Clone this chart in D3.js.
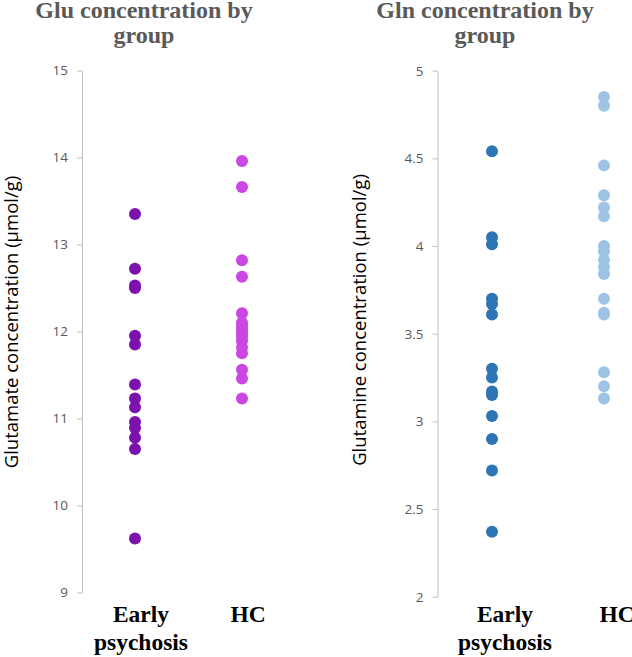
<!DOCTYPE html>
<html>
<head>
<meta charset="utf-8">
<script src="https://cdn.jsdelivr.net/npm/d3@7"></script>
<style>
  body { margin: 0; background: #fff; }
  svg { display: block; }
</style>
</head>
<body>
<svg width="632" height="657"></svg>
<script>
const svg = d3.select('svg');

// groups on the x axis
var groups = ["Early psychosis", "HC"];

// Glu (umol/g)
var gluEarly = [13.35, 12.72, 12.53, 12.50, 11.95, 11.85, 11.39, 11.23, 11.13, 10.96, 10.89, 10.78, 10.65, 9.62];
var gluHC = [13.96, 13.66, 12.82, 12.63, 12.21, 12.10, 12.06, 12.02, 12.00, 11.97, 11.93, 11.89, 11.82, 11.75, 11.56, 11.46, 11.23];

// Gln (umol/g)
var glnEarly = [4.54, 4.05, 4.01, 3.70, 3.67, 3.61, 3.30, 3.25, 3.17, 3.15, 3.03, 2.90, 2.72, 2.37];
var glnHC = [4.85, 4.80, 4.46, 4.29, 4.22, 4.17, 4.00, 3.97, 3.92, 3.88, 3.84, 3.70, 3.62, 3.61, 3.28, 3.20, 3.13];

// tick labels
var gluTicks = [9, 10, 11, 12, 13, 14, 15];
var glnTicks = [2, 2.5, 3, 3.5, 4, 4.5, 5];

function panel(opt) {
    var g = svg.append("g");

    var x = d3.scalePoint().domain(groups).range(opt.xRange);
    var y = d3.scaleLinear().domain(opt.yDomain).range(opt.yRange);

    // y axis
    var axis = g.append("g")
        .attr("transform", "translate(" + opt.axisX + ",0)")
        .call(d3.axisLeft(y).tickValues(opt.ticks).tickFormat(function(d) { return String(d); })
            .tickSize(5).tickPadding(9).tickSizeOuter(0));
    axis.select(".domain").attr("stroke", "#bfbfbf");
    axis.selectAll(".tick line").attr("stroke", "#bfbfbf");
    axis.selectAll(".tick text")
        .attr("fill", "#595959")
        .style("font-family", "'Open Sans', sans-serif")
        .style("font-size", "13.5px");

    // points
    opt.series.forEach(function(s, i) {
        g.append("g").selectAll("circle")
            .data(s.values)
            .enter()
            .append("circle")
            .attr("cx", x(groups[i]))
            .attr("cy", function(d) { return y(d); })
            .attr("r", 6)
            .attr("fill", s.color);
    });

    // title, two lines
    var t = g.append("text")
        .attr("text-anchor", "middle")
        .attr("fill", "#595959")
        .style("font-family", "'Liberation Serif', serif")
        .style("font-weight", "bold")
        .style("font-size", "24px");
    opt.title.forEach(function(line, i) {
        t.append("tspan")
            .attr("x", opt.titleX)
            .attr("y", 18 + i * 25)
            .text(line);
    });

    // y axis title
    g.append("text")
        .attr("transform", "translate(" + opt.yTitleX + "," + opt.yTitleY + ") rotate(-90)")
        .attr("text-anchor", "middle")
        .attr("fill", "#000")
        .style("font-family", "'Open Sans', sans-serif")
        .style("font-size", "18.5px")
        .text(opt.yTitle);

    // category labels
    var lab = g.append("g").selectAll("text")
        .data(groups)
        .enter()
        .append("text")
        .attr("text-anchor", "middle")
        .attr("fill", "#000")
        .style("font-family", "'Liberation Serif', serif")
        .style("font-weight", "bold")
        .style("font-size", "23.5px");
    lab.each(function(d) {
        var words = d.split(" ");
        var el = d3.select(this);
        words.forEach(function(w, j) {
            el.append("tspan")
                .attr("x", x(d) + opt.labelDx)
                .attr("y", 622 + j * 28)
                .text(w);
        });
    });
}

panel({
    xRange: [135, 242],
    yDomain: [9, 15],
    yRange: [592.5, 70.5],
    axisX: 82,
    ticks: gluTicks,
    series: [{values: gluEarly, color: "#7B12AD"}, {values: gluHC, color: "#CB46E2"}],
    title: ["Glu concentration by", "group"],
    titleX: 144,
    yTitle: "Glutamate concentration (\u00b5mol/g)",
    yTitleX: 18,
    yTitleY: 322,
    labelDx: 6
});

panel({
    xRange: [492, 604],
    yDomain: [2, 5],
    yRange: [596.7, 70.7],
    axisX: 437.5,
    ticks: glnTicks,
    series: [{values: glnEarly, color: "#2E75B6"}, {values: glnHC, color: "#9DC3E6"}],
    title: ["Gln concentration by", "group"],
    titleX: 485,
    yTitle: "Glutamine concentration (\u00b5mol/g)",
    yTitleX: 366,
    yTitleY: 320,
    labelDx: 13
});
</script>
</body>
</html>
